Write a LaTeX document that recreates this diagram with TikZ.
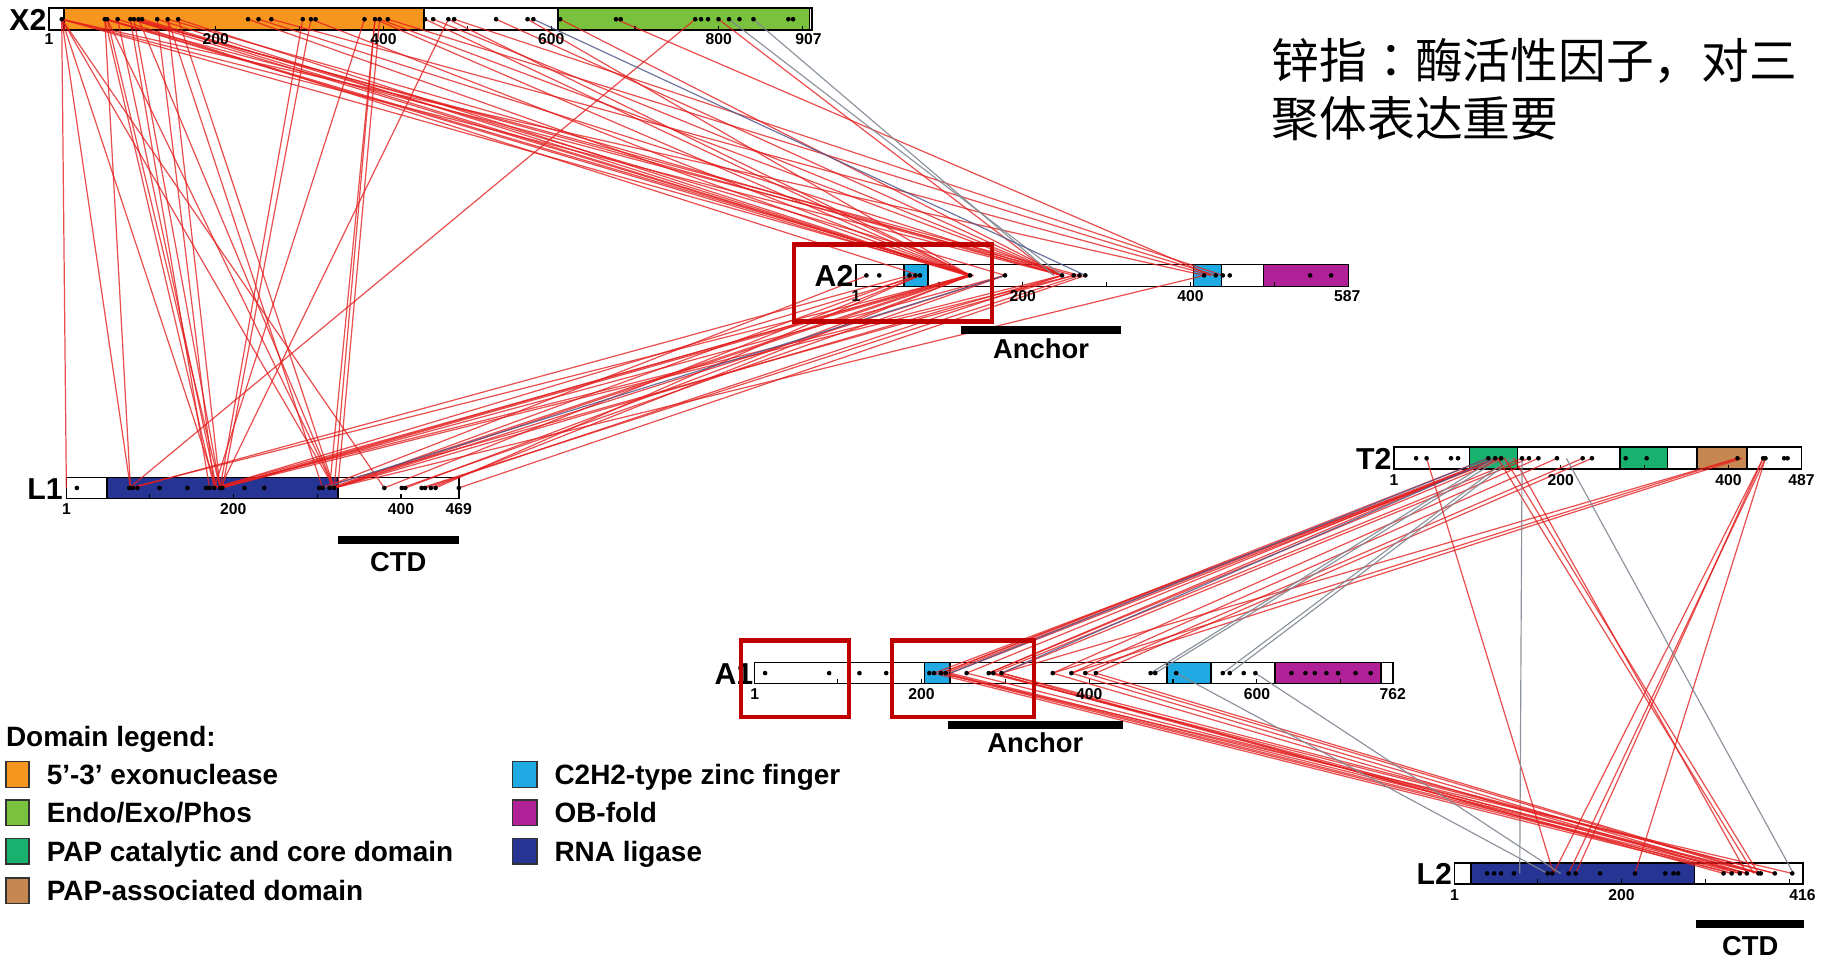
\documentclass[tikz,border=0pt]{standalone}
\usepackage{fontspec}
\setmainfont{Liberation Sans}
\newfontfamily\cjkfont{Noto Sans CJK SC}
\newfontfamily\cjkpunct{Noto Sans CJK TC}
\definecolor{corange}{RGB}{247,150,30}
\definecolor{cendo}{RGB}{122,194,62}
\definecolor{cpap}{RGB}{24,178,110}
\definecolor{cbrown}{RGB}{198,136,80}
\definecolor{ccyan}{RGB}{32,170,228}
\definecolor{cmag}{RGB}{176,32,150}
\definecolor{cblue}{RGB}{38,52,148}
\definecolor{xred}{RGB}{228,30,30}
\definecolor{xgrey}{RGB}{128,136,146}
\definecolor{xblue}{RGB}{80,90,140}
\definecolor{boxred}{RGB}{192,0,0}
\begin{document}
\begin{tikzpicture}[x=1pt,y=-1pt,
  bar/.style={draw=black,line width=1.4pt,fill=white},
  dom/.style={draw=black,line width=1.4pt},
  xr/.style={draw=xred,line width=1.05pt,opacity=0.78},
  xg/.style={draw=xgrey,line width=1pt,opacity=0.9},
  xb/.style={draw=xblue,line width=1pt,opacity=0.85},
  plabel/.style={font=\bfseries\fontsize{26}{26}\selectfont,anchor=base east,inner sep=0pt},
  tlabel/.style={font=\bfseries\fontsize{13.5}{13.5}\selectfont,anchor=base,inner sep=0pt},
  reglabel/.style={font=\bfseries\fontsize{23.5}{23.5}\selectfont,anchor=base,inner sep=0pt},
  legtext/.style={font=\bfseries\fontsize{24}{24}\selectfont,anchor=base west,inner sep=0pt},
  legbox/.style={draw=black!80,line width=1.2pt},
  regbar/.style={fill=black},
  redbox/.style={draw=boxred,line width=3.6pt},
  cjk/.style={font=\cjkfont\fontsize{41}{41}\selectfont,anchor=west,inner sep=0pt}
]
\useasboundingbox (0,0) rectangle (1568,824);
\fill[white] (0,0) rectangle (1568,824);

% ---------------- bars ----------------
% X2
\path[bar] (42,7) rectangle (697,26);
\path[dom,fill=corange] (55,7) rectangle (364,26);
\path[dom,fill=cendo] (479,7) rectangle (695,26);
\draw[line width=1.4pt] (42,7) rectangle (697,26);
% A2
\path[bar] (735,227) rectangle (1158,246);
\path[dom,fill=ccyan] (776,227) rectangle (797,246);
\path[dom,fill=ccyan] (1025,227) rectangle (1049,246);
\path[dom,fill=cmag] (1085,227) rectangle (1158,246);
% L1
\path[bar] (57,410) rectangle (394,428);
\path[dom,fill=cblue] (92,410) rectangle (290,428);
% T2
\path[bar] (1197,384) rectangle (1547,403);
\path[dom,fill=cpap] (1262,384) rectangle (1303,403);
\path[dom,fill=cpap] (1391,384) rectangle (1432,403);
\path[dom,fill=cbrown] (1457,384) rectangle (1500,403);
% A1
\path[bar] (648,569) rectangle (1196,587);
\path[dom,fill=ccyan] (794,569) rectangle (816,587);
\path[dom,fill=ccyan] (1002,569) rectangle (1040,587);
\path[dom,fill=cmag] (1095,569) rectangle (1186,587);
% L2
\path[bar] (1249,741) rectangle (1548,759);
\path[dom,fill=cblue] (1263,741) rectangle (1455,759);

% ticks every 100 residues
\foreach \r in {100,200,...,900} \draw[line width=1pt] ({42+(\r-1)*0.72},26) -- ++(0,-4);
\foreach \r in {100,200,...,500} \draw[line width=1pt] ({735+(\r-1)*0.72},246) -- ++(0,-4);
\foreach \r in {100,200,...,400} \draw[line width=1pt] ({57+(\r-1)*0.72},428) -- ++(0,-4);
\foreach \r in {100,200,...,400} \draw[line width=1pt] ({1197+(\r-1)*0.72},403) -- ++(0,-4);
\foreach \r in {100,200,...,700} \draw[line width=1pt] ({648+(\r-1)*0.72},587) -- ++(0,-4);
\foreach \r in {100,200,...,400} \draw[line width=1pt] ({1249+(\r-1)*0.72},759) -- ++(0,-4);

% ---------------- crosslinks ----------------
\def\yXt{16.5}\def\yAt{236.5}\def\yLo{419}\def\yTt{393.5}\def\yAo{578}\def\yLt{750}
% X2 -> L1
\foreach \a/\b in {53/57,53/112,53/186,53/287,90/112,90/184,92/189,92/287,101/186,112/180,
  115/189,119/287,135/184,144/189,153/287,260/189,267/191,322/287,322/283,326/290,313/184,
  385/189,597/111,53/330,144/277}
  \draw[xr] (\a,\yXt) -- (\b,\yLo);
% X2 -> A2
\foreach \a/\b in {53/833,53/912,53/1034,90/830,92/836,101/790,112/833,115/912,119/833,
  122/863,135/833,144/912,153/833,213/833,222/912,233/1040,267/833,322/833,326/912,333/1044,
  365/833,372/912,385/833,390/1050,426/912,453/833,481/912,529/1040,617/905,90/922,112/927}
  \draw[xr] (\a,\yXt) -- (\b,\yAt);
\foreach \a/\b in {626/912,647/905} \draw[xg] (\a,\yXt) -- (\b,\yAt);
\draw[xb] (458,\yXt) -- (932,\yAt);
% A2 -> L1
\foreach \a/\b in {833/111,833/184,830/189,836/191,833/287,830/283,790/184,786/287,781/114,
  863/189,863/287,863/345,912/184,912/287,922/274,927/362,932/394,833/348,833/370,790/330,
  790/374,745/277,912/365,922/189,1034/287}
  \draw[xr] (\a,\yAt) -- (\b,\yLo);
\draw[xb] (863,\yAt) -- (277,\yLo);
% T2 -> A1
\foreach \a/\b in {1278/808,1284/808,1286/812,1289/802,1289/816,1284/830,1292/849,1307/853,
  1313/860,1321/904,1337/920,1359/932,1367/941,1492/860,1492/904,1496/920,1284/849}
  \draw[xr] (\a,\yTt) -- (\b,\yAo);
\foreach \a/\b in {1289/992,1296/1050,1284/988,1300/1056} \draw[xg] (\a,\yTt) -- (\b,\yAo);
\foreach \a/\b in {1278/816,1284/860} \draw[xb] (\a,\yTt) -- (\b,\yAo);
% T2 -> L2
\foreach \a/\b in {1225/1334,1286/1506,1292/1510,1300/1500,1514/1353,1516/1347,1514/1334,1516/1404}
  \draw[xr] (\a,\yTt) -- (\b,\yLt);
\foreach \a/\b in {1307/1305,1345/1540} \draw[xg] (\a,\yTt) -- (\b,\yLt);
% A1 -> L2
\foreach \a/\b in {808/1494,812/1500,816/1510,830/1512,849/1524,853/1487,860/1480,904/1494,
  920/1500,932/1510,941/1512,808/1539,860/1524,802/1487,853/1500}
  \draw[xr] (\a,\yAo) -- (\b,\yLt);
\foreach \a/\b in {1010/1329,1078/1340} \draw[xg] (\a,\yAo) -- (\b,\yLt);

% ---------------- dots ----------------
\foreach \x in {53,90,92,101,112,115,119,122,135,144,153,213,222,233,260,267,271,313,322,326,333,
  365,372,385,390,426,453,458,481,529,533,597,602,608,617,626,635,647,677,681}
  \fill (\x,\yXt) circle (2pt);
\foreach \x in {744,755,781,786,790,833,863,912,922,927,932,1034,1044,1050,1056,1125,1143}
  \fill (\x,\yAt) circle (2pt);
\foreach \x in {66,111,114,118,137,161,177,180,184,189,191,210,227,274,277,283,287,330,345,348,
  362,365,370,374,394}
  \fill (\x,\yLo) circle (2pt);
\foreach \x in {1216,1225,1246,1252,1278,1284,1289,1307,1313,1321,1337,1359,1367,1396,1414,1492,
  1514,1516,1532,1535}
  \fill (\x,\yTt) circle (2pt);
\foreach \x in {657,712,738,761,798,802,808,812,830,849,853,860,904,920,932,941,988,992,1010,1050,
  1056,1068,1078,1109,1121,1129,1139,1149,1164,1177}
  \fill (\x,\yAo) circle (2pt);
\foreach \x in {1277,1283,1289,1300,1329,1333,1347,1353,1374,1404,1430,1437,1441,1480,1487,1494,
  1500,1510,1512,1524,1539}
  \fill (\x,\yLt) circle (2pt);

% ---------------- labels ----------------
\node[plabel] (X2lab) at (40,26.5) {X2};
\node[plabel] (A2lab) at (733,246) {A2};
\node[plabel] (L1lab) at (54,428.5) {L1};
\node[plabel] (T2lab) at (1195,403) {T2};
\node[plabel] (A1lab) at (647,587.5) {A1};
\node[plabel] (L2lab) at (1247,759.5) {L2};

\foreach \r/\t in {1/1,200/200,400/400,600/600,800/800,907/907}
  \node[tlabel] (X2t\r) at ({42+(\r-1)*0.72},38.5) {\t};
\foreach \r/\t in {1/1,200/200,400/400,587/587}
  \node[tlabel] (A2t\r) at ({735+(\r-1)*0.72},259) {\t};
\foreach \r/\t in {1/1,200/200,400/400,469/469}
  \node[tlabel] (L1t\r) at ({57+(\r-1)*0.72},442) {\t};
\foreach \r/\t in {1/1,200/200,400/400,487/487}
  \node[tlabel] (T2t\r) at ({1197+(\r-1)*0.72},417) {\t};
\foreach \r/\t in {1/1,200/200,400/400,600/600,762/762}
  \node[tlabel] (A1t\r) at ({648+(\r-1)*0.72},601) {\t};
\foreach \r/\t in {1/1,200/200,416/416}
  \node[tlabel] (L2t\r) at ({1249+(\r-1)*0.72},773) {\t};

% region bars
\fill[regbar] (825,280) rectangle (963,287);
\node[reglabel] (anc2) at (894,307.5) {Anchor};
\fill[regbar] (814,619) rectangle (964,626);
\node[reglabel] (anc1) at (889,646.5) {Anchor};
\fill[regbar] (290,460) rectangle (394,467);
\node[reglabel] (ctd1) at (342,490.5) {CTD};
\fill[regbar] (1456,790) rectangle (1549,797);
\node[reglabel] (ctd2) at (1503,820.5) {CTD};

% red boxes
\draw[redbox] (682,210) rectangle (852,276);
\draw[redbox] (636,550) rectangle (729,616);
\draw[redbox] (766,550) rectangle (888,616);

% ---------------- legend ----------------
\node[legtext] (legt) at (5,640.6) {Domain legend:};
\path[legbox,fill=corange] (5,654) rectangle (25,676);
\node[legtext] (leg1) at (40,673.6) {5’-3’ exonuclease};
\path[legbox,fill=cendo] (5,687) rectangle (25,709);
\node[legtext] (leg2) at (40,706.6) {Endo/Exo/Phos};
\path[legbox,fill=cpap] (5,720) rectangle (25,742);
\node[legtext] (leg3) at (40,739.6) {PAP catalytic and core domain};
\path[legbox,fill=cbrown] (5,754) rectangle (25,776);
\node[legtext] (leg4) at (40,773.6) {PAP-associated domain};
\path[legbox,fill=ccyan] (440,654) rectangle (461,676);
\node[legtext] (leg5) at (476,673.6) {C2H2-type zinc finger};
\path[legbox,fill=cmag] (440,687) rectangle (461,709);
\node[legtext] (leg6) at (476,706.6) {OB-fold};
\path[legbox,fill=cblue] (440,720) rectangle (461,742);
\node[legtext] (leg7) at (476,739.6) {RNA ligase};

% ---------------- note ----------------
\node[cjk] (note1) at (1092,52) {锌指{\cjkpunct ：}酶活性因子，对三};
\node[cjk] (note2) at (1092,102) {聚体表达重要};
\end{tikzpicture}
\end{document}
